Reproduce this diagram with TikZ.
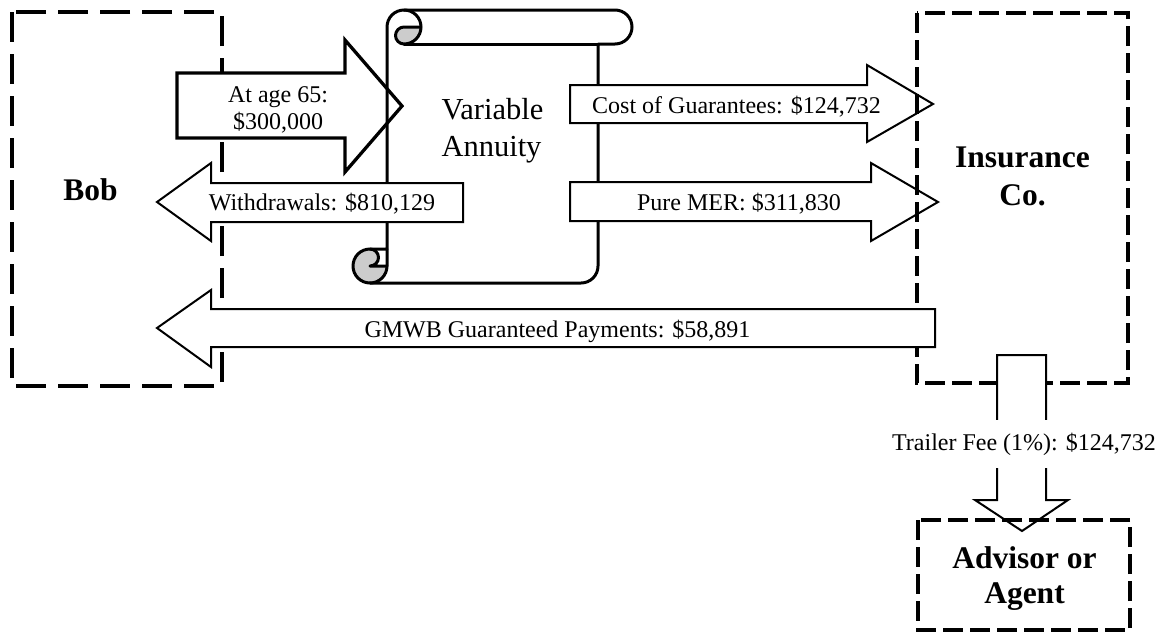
\documentclass[tikz,border=0pt]{standalone}
\usepackage{fontspec}
\setmainfont{Liberation Serif}
\definecolor{curl}{RGB}{204,204,204}
\begin{document}
\begin{tikzpicture}[x=1pt,y=-1pt]
\tikzset{
 bobbox/.style={line width=3.4pt, dash pattern=on 30pt off 12pt},
 dbox/.style={line width=3.2pt, dash pattern=on 20pt off 7pt},
 barrow/.style={draw=black, fill=white, line width=2pt},
 thickarrow/.style={draw=black, fill=white, line width=3.3pt},
 lbl/.style={font=\fontsize{24}{27}\selectfont, inner sep=0pt, anchor=base},
 ent/.style={font=\fontsize{31.5}{35}\selectfont\bfseries, inner sep=0pt, anchor=base},
 title/.style={font=\fontsize{30.5}{35}\selectfont, inner sep=0pt, anchor=base},
 scrollline/.style={line width=3pt, line join=round, line cap=round},
}
\useasboundingbox (0,0) rectangle (1161,633);
\fill[white] (0,0) rectangle (1161,633);

% Bob
\draw[bobbox] (12,12) rectangle (222,386);
\node[ent] (bob) at (90.5,200) {Bob};

% At age 65 arrow
\draw[thickarrow] (177,73) -- (345,73) -- (345,40) -- (402,106) -- (345,172) -- (345,138) -- (177,138) -- cycle;
\node[lbl] (age1) at (278,102) {At age 65:};
\node[lbl] (age2) at (278,129) {\$300,000};

% Scroll (Variable Annuity)
\fill[curl] (421,27) arc[start angle=0, delta angle=90, radius=17]
  arc[start angle=90, delta angle=180, radius=8.5] -- cycle;
\fill[curl] (387,266) arc[start angle=0, delta angle=90, radius=17]
  arc[start angle=90, delta angle=180, radius=17]
  arc[start angle=270, delta angle=180, radius=8.5] -- cycle;
\draw[scrollline] (387,249) -- (387,27) arc[start angle=180, delta angle=90, radius=17]
  -- (615,10) arc[start angle=270, delta angle=180, radius=17]
  -- (598,44) -- (598,266) arc[start angle=0, delta angle=90, radius=17]
  -- (370,283) arc[start angle=90, delta angle=180, radius=17] -- cycle;
\draw[scrollline] (404,10) arc[start angle=270, delta angle=180, radius=17]
  arc[start angle=90, delta angle=180, radius=8.5] -- (421,27);
\draw[scrollline] (598,44) -- (404,44);
\draw[scrollline] (370,249) arc[start angle=270, delta angle=180, radius=8.5] -- (387,266);
\draw[scrollline] (370,283) arc[start angle=90, delta angle=-90, radius=17] -- (387,249);
\node[title] (va1) at (492.5,119) {Variable};
\node[title] (va2) at (491.5,156) {Annuity};

% Withdrawals
\draw[barrow] (463,183) -- (211,183) -- (211,163) -- (157,202) -- (211,241) -- (211,222) -- (463,222) -- cycle;
\node[lbl] (wd) at (322,210) {Withdrawals: \$810,129};

% Cost of Guarantees
\draw[barrow] (570,85) -- (867,85) -- (867,65) -- (933,104) -- (867,142) -- (867,123) -- (570,123) -- cycle;
\node[lbl] (cost) at (736.5,113) {Cost of Guarantees: \$124,732};

% Pure MER
\draw[barrow] (570,182) -- (871,182) -- (871,163) -- (938,202) -- (871,241) -- (871,221) -- (570,221) -- cycle;
\node[lbl] (mer) at (739,210) {Pure MER: \$311,830};

% Insurance Co.
\draw[dbox] (917,13) rectangle (1128,383);
\node[ent] (ins1) at (1022.5,167) {Insurance};
\node[ent] (ins2) at (1022.5,205) {Co.};

% GMWB
\draw[barrow] (935,309) -- (211,309) -- (211,290) -- (157,328) -- (211,367) -- (211,347) -- (935,347) -- cycle;
\node[lbl] (gmwb) at (557.5,337) {GMWB Guaranteed Payments: \$58,891};

% Trailer fee
\draw[barrow] (997,355) -- (1046,355) -- (1046,500) -- (1068,500) -- (1022,531) -- (975,500) -- (997,500) -- cycle;
\node[lbl, fill=white, text height=18pt, text depth=6pt, inner ysep=12pt, inner xsep=2pt] (trail) at (1024,450) {Trailer Fee (1\%): \$124,732};

% Advisor or Agent
\draw[dbox] (918,520) rectangle (1130,630);
\node[ent] (adv1) at (1024.5,568) {Advisor or};
\node[ent] (adv2) at (1024.5,603) {Agent};
\end{tikzpicture}
\end{document}
